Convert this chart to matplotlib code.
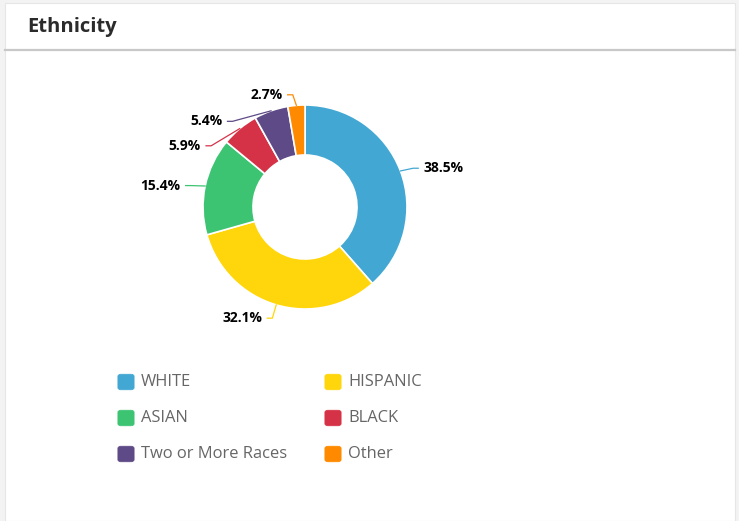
import matplotlib
matplotlib.use("Agg")
import matplotlib.pyplot as plt
from matplotlib.patches import FancyBboxPatch, Rectangle
import numpy as np

categories = ["WHITE", "HISPANIC", "ASIAN", "BLACK", "Two or More Races", "Other"]
values = [38.5, 32.1, 15.4, 5.9, 5.4, 2.7]
colors = ["#42A8D3", "#FFD60B", "#3DC473", "#D53247", "#5E4A86", "#FF8A00"]
title = "Ethnicity"

W, H = 739, 521
fig = plt.figure(figsize=(W / 100, H / 100), dpi=100)
fig.patch.set_facecolor("#f3f3f3")

# card
fig.patches.append(Rectangle((5 / W, 0), 730 / W, 1 - 3 / H, transform=fig.transFigure,
                             facecolor="white", edgecolor="#e6e6e6", lw=0.8, zorder=-5))
fig.add_artist(plt.Line2D([5 / W, 735 / W], [1 - 50 / H, 1 - 50 / H], color="#c8c8c8", lw=1.6))
fig.text(27 / W, 1 - 27 / H, title, fontsize=14.5, fontweight="bold", family="Open Sans",
         color="#2b2b2b", va="center", ha="left")

# pie axes: center (305,207), radius 102 px
cx, cy, r = 305, 207, 102
ax = fig.add_axes([(cx - r) / W, 1 - (cy + r) / H, 2 * r / W, 2 * r / H], zorder=5)
ax.patch.set_alpha(0)
wedges, _ = ax.pie(values, colors=colors, startangle=90, counterclock=False, radius=1,
                   wedgeprops=dict(width=0.49, edgecolor="white", linewidth=1.2))
ax.set_xlim(-1, 1)
ax.set_ylim(-1, 1)
ax.set_aspect("equal")
ax.axis("off")

# label layout (text anchor x,y in radius units; alignment)
label_pos = [(1.16, 0.38, "left"), (-0.42, -1.09, "right"), (-1.22, 0.21, "right"),
             (-1.02, 0.60, "right"), (-0.81, 0.84, "right"), (-0.22, 1.10, "right")]

for w, v, col, (lx, ly, ha) in zip(wedges, values, colors, label_pos):
    ang = np.deg2rad((w.theta1 + w.theta2) / 2)
    ex, ey = np.cos(ang), np.sin(ang)
    gap = 0.05 if ha == "left" else -0.05
    tx = lx - gap
    kx = tx - 0.05 if ha == "left" else tx + 0.05
    ax.plot([ex, kx, tx], [ey, ly, ly], color=col, lw=0.9, clip_on=False,
            solid_joinstyle="round")
    ax.text(lx, ly, f"{v}%", ha=ha, va="center", fontsize=10, fontweight="bold",
            family="Open Sans", color="black", clip_on=False)

# legend
rows = [382, 418, 454]
colx = [118, 325]
for i, (cat, col) in enumerate(zip(categories, colors)):
    x0 = colx[i % 2]
    y0 = rows[i // 2]
    fig.patches.append(FancyBboxPatch(((x0 + 1) / W, 1 - (y0 + 7) / H), 14 / W, 14 / H,
                                      boxstyle="round,pad=0.0015,rounding_size=0.004",
                                      transform=fig.transFigure, facecolor=col, edgecolor=col,
                                      lw=0.5))
    fig.text((x0 + 23) / W, 1 - y0 / H, cat, fontsize=11.9, family="Open Sans", color="#666666",
             va="center", ha="left")

fig.savefig("out.png", dpi=100)
